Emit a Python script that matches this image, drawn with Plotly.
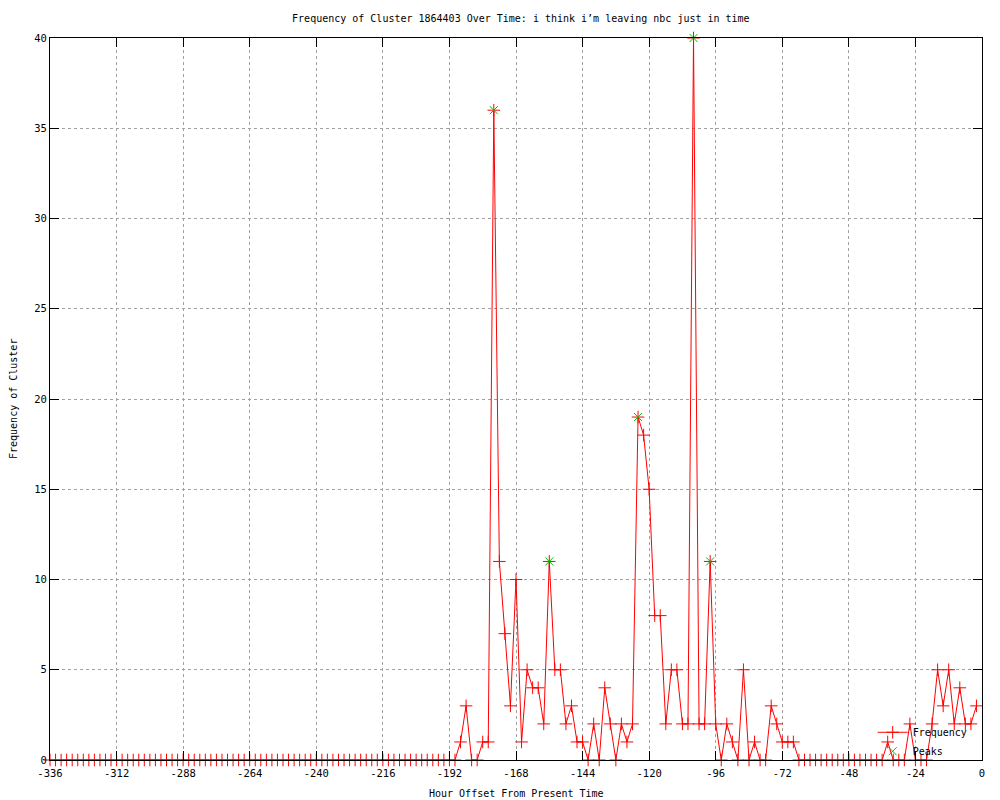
import plotly.graph_objects as go

# hours before now, one bucket every 2 hours
hours = list(range(-336, 0, 2))

# cluster frequency per bucket (-336 ... -2)
frequency = [
    0, 0, 0, 0, 0, 0, 0, 0, 0, 0,
    0, 0, 0, 0, 0, 0, 0, 0, 0, 0,
    0, 0, 0, 0, 0, 0, 0, 0, 0, 0,
    0, 0, 0, 0, 0, 0, 0, 0, 0, 0,
    0, 0, 0, 0, 0, 0, 0, 0, 0, 0,
    0, 0, 0, 0, 0, 0, 0, 0, 0, 0,
    0, 0, 0, 0, 0, 0, 0, 0, 0, 0,
    0, 0, 0, 0,
    1, 3, 0, 0, 1, 1, 36, 11, 7, 3,
    10, 1, 5, 4, 4, 2, 11, 5, 5, 2,
    3, 1, 1, 0, 2, 0, 4, 2, 0, 2,
    1, 2, 19, 18, 15, 8, 8, 2, 5, 5,
    2, 2, 40, 2, 2, 11, 2, 0, 2, 1,
    0, 5, 0, 1, 0, 0, 3, 2, 1, 1,
    1,
    0, 0, 0, 0, 0, 0, 0, 0, 0, 0, 0, 0, 0, 0, 0, 0,
    1, 0, 0, 0, 2, 0, 0, 0, 2, 5, 3, 5, 2, 4, 2, 2, 3,
]

# detected peaks
peak_hours = [-176, -156, -124, -104, -98]
peak_values = [36, 11, 19, 40, 11]

x_ticks = list(range(-336, 1, 24))
y_ticks = list(range(0, 41, 5))

FONT = "DejaVu Sans Mono"

fig = go.Figure()

fig.add_trace(go.Scatter(
    x=hours, y=frequency, name="Frequency",
    mode="lines+markers",
    line=dict(color="#ff0000", width=1),
    marker=dict(symbol="cross-thin", size=9, line=dict(color="#ff0000", width=1)),
    cliponaxis=False,
))

fig.add_trace(go.Scatter(
    x=peak_hours, y=peak_values, name="Peaks",
    mode="markers",
    marker=dict(symbol="x-thin", size=8, line=dict(color="#00c000", width=1)),
    cliponaxis=False,
))

axis_style = dict(
    showline=True, linecolor="black", linewidth=1, mirror="ticks",
    ticks="inside", ticklen=9, tickcolor="black", tickwidth=1,
    showgrid=True, gridcolor="#a0a0a0", griddash="dot", gridwidth=1,
    zeroline=False, automargin=False,
    tickfont=dict(family=FONT, size=10.5, color="black"),
)

fig.update_xaxes(
    range=[-336, 0], tickvals=x_ticks, ticktext=[str(t) for t in x_ticks],
    ticklabelstandoff=3,
    **axis_style,
)
fig.update_yaxes(
    range=[0, 40], tickvals=y_ticks, ticktext=[str(t) for t in y_ticks],
    **axis_style,
)

# axis titles placed like gnuplot does
fig.add_annotation(
    text="Hour Offset From Present Time", xref="paper", yref="paper",
    x=0.5, y=0, yanchor="middle", yshift=-33, showarrow=False,
    font=dict(family=FONT, size=10, color="black"),
)
fig.add_annotation(
    text="Frequency of Cluster", xref="paper", yref="paper",
    x=0, y=0.5, xanchor="center", xshift=-37, textangle=-90, showarrow=False,
    font=dict(family=FONT, size=10, color="black"),
)

# the page body adds an 8px offset, so the figure is 8px smaller
fig.update_layout(
    width=992, height=792,
    margin=dict(l=42, r=18, t=30, b=40),
    plot_bgcolor="white", paper_bgcolor="white",
    title=dict(
        text="Frequency of Cluster 1864403 Over Time: i think i\u2019m leaving nbc just in time",
        x=0.517, xanchor="center", y=0.987, yanchor="middle",
        font=dict(family=FONT, size=10, color="black"),
    ),
    legend=dict(
        x=0.99, y=-0.008, xanchor="right", yanchor="bottom",
        bgcolor="rgba(0,0,0,0)", tracegroupgap=0,
        font=dict(family=FONT, size=10, color="black"),
    ),
    font=dict(family=FONT),
)

fig.write_html("out.html")
